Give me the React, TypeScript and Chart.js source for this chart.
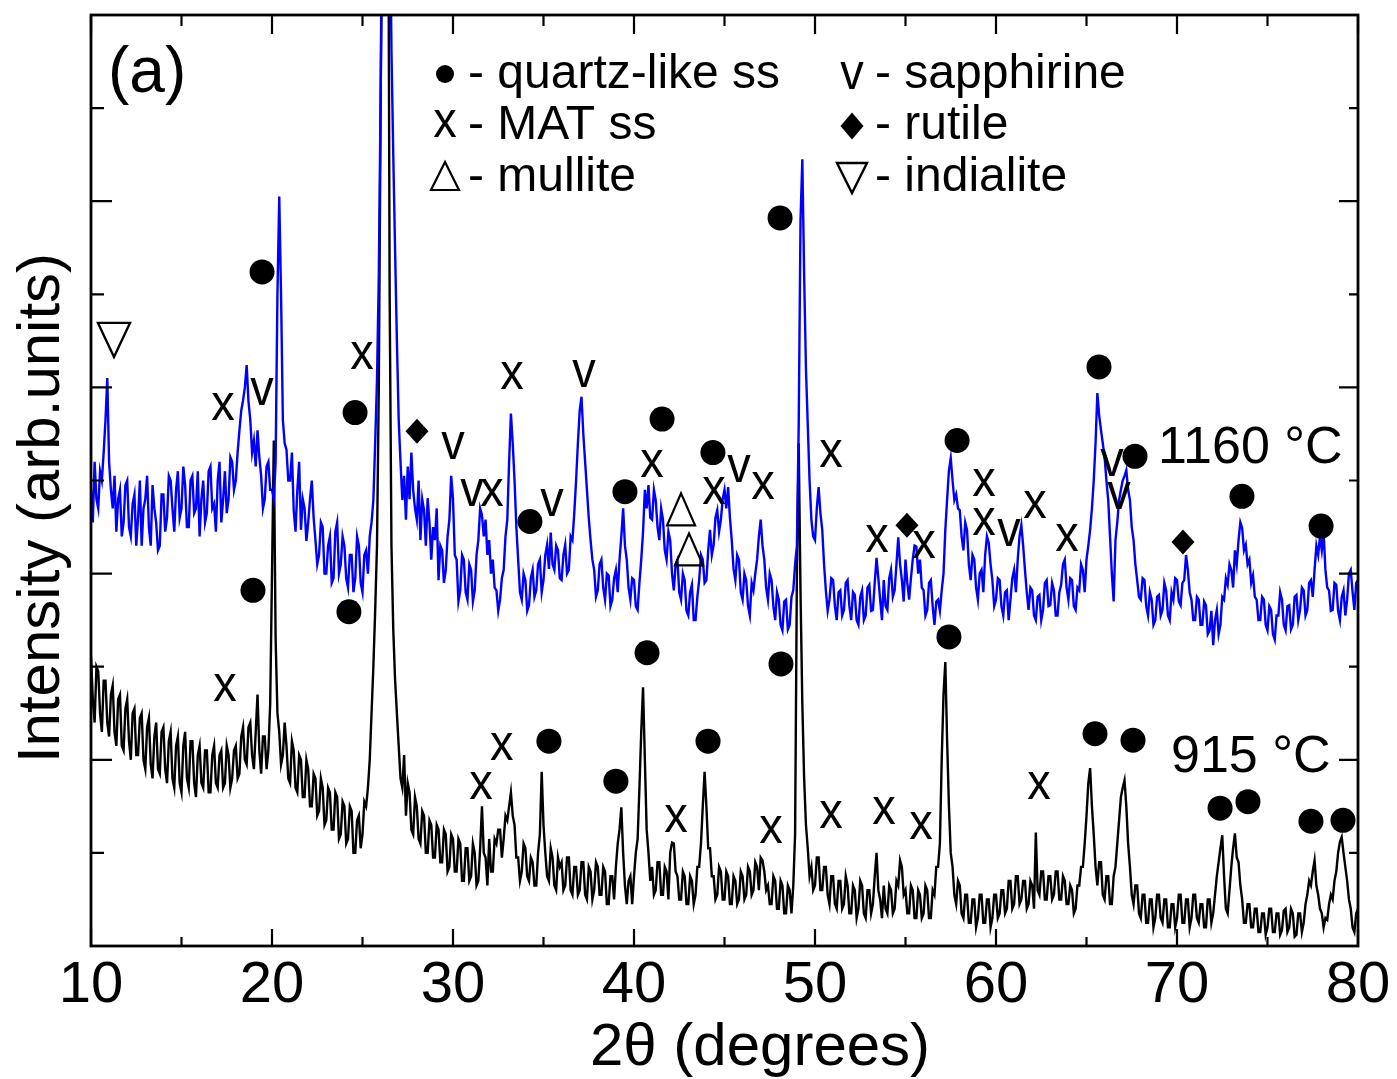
import React, { useEffect, useRef } from 'react';
import { Chart, registerables } from 'chart.js';

Chart.register(...registerables);

// 2θ scan grid (degrees)
const SCAN_START = 10;
const SCAN_STEP = 0.1;

// Intensity (arb. units), sample fired at 1160 °C — one row per degree (x.0 … x.9)
const intensity1160: number[] = [
  490, 455, 520, 480, 470, 510, 500, 530, 565, 610,
  520, 490, 470, 505, 445, 480, 490, 440, 455, 495,
  500, 450, 440, 475, 485, 430, 460, 500, 430, 470,
  480, 505, 450, 430, 495, 470, 455, 425, 430, 485,
  485, 445, 460, 505, 500, 470, 445, 490, 510, 460,
  470, 515, 495, 450, 450, 500, 505, 465, 470, 510,
  440, 480, 500, 455, 465, 510, 515, 470, 475, 445,
  500, 520, 455, 480, 510, 465, 480, 525, 520, 490,
  500, 530, 554, 575, 586, 600, 624, 585, 565, 530,
  543, 515, 554, 525, 505, 470, 480, 515, 520, 490,
  490, 480, 520, 700, 805, 700, 565, 540, 533, 500,
  500, 530, 468, 445, 490, 520, 447, 480, 470, 435,
  455, 480, 500, 460, 436, 410, 420, 455, 450, 400,
  400, 430, 440, 390, 395, 445, 455, 400, 410, 440,
  430, 395, 385, 420, 420, 380, 395, 440, 430, 390,
  380, 420, 425, 400, 440, 455, 479, 540, 608, 720,
  909, 1100, 1300, 1300, 1250, 1150, 962, 850, 748, 650,
  565, 520, 479, 505, 458, 515, 480, 530, 490, 470,
  458, 500, 436, 480, 468, 430, 481, 455, 415, 450,
  436, 470, 393, 430, 425, 390, 404, 440, 458, 505,
  480, 420, 415, 370, 382, 420, 415, 380, 372, 410,
  404, 370, 382, 420, 436, 470, 463, 440, 458, 420,
  436, 400, 415, 385, 382, 360, 372, 395, 404, 440,
  458, 520, 572, 540, 500, 450, 415, 380, 372, 400,
  393, 360, 366, 395, 404, 375, 382, 410, 415, 380,
  393, 420, 431, 405, 444, 410, 404, 430, 425, 395,
  393, 420, 431, 400, 404, 440, 436, 465, 500, 540,
  575, 590, 550, 520, 490, 460, 436, 415, 404, 375,
  382, 410, 415, 385, 372, 400, 398, 365, 372, 395,
  404, 380, 415, 440, 470, 430, 415, 385, 372, 395,
  393, 365, 361, 390, 415, 445, 490, 470, 495, 460,
  458, 490, 479, 450, 436, 470, 458, 425, 415, 445,
  436, 400, 382, 410, 415, 380, 372, 400, 393, 360,
  355, 380, 388, 350, 350, 375, 393, 420, 415, 390,
  393, 425, 447, 420, 431, 460, 468, 445, 458, 480,
  490, 470, 493, 460, 436, 405, 393, 420, 415, 380,
  372, 400, 393, 365, 355, 390, 382, 400, 415, 440,
  458, 430, 415, 385, 372, 400, 393, 365, 350, 380,
  372, 345, 339, 370, 372, 340, 345, 375, 382, 410,
  430, 560, 780, 845, 720, 620, 560, 500, 458, 440,
  436, 470, 493, 465, 447, 410, 382, 360, 372, 395,
  393, 365, 350, 380, 382, 355, 361, 390, 393, 365,
  350, 380, 377, 350, 345, 375, 382, 350, 355, 385,
  388, 360, 361, 390, 417, 395, 372, 350, 393, 365,
  361, 395, 404, 375, 382, 410, 439, 410, 393, 370,
  415, 390, 372, 395, 415, 430, 429, 400, 415, 385,
  382, 355, 361, 390, 393, 365, 345, 370, 372, 360,
  382, 400, 447, 480, 511, 524, 500, 479, 485, 470,
  468, 440, 425, 455, 447, 410, 393, 420, 415, 385,
  372, 400, 404, 380, 420, 440, 433, 410, 393, 365,
  372, 395, 393, 365, 355, 380, 382, 350, 372, 395,
  404, 380, 415, 440, 452, 430, 404, 380, 361, 385,
  382, 355, 350, 375, 377, 350, 361, 390, 393, 365,
  366, 390, 382, 355, 355, 380, 388, 410, 415, 385,
  372, 395, 393, 365, 361, 385, 382, 410, 404, 380,
  415, 430, 447, 470, 500, 540, 594, 570, 554, 540,
  525, 500, 479, 440, 400, 370, 436, 455, 479, 490,
  500, 505, 511, 490, 479, 450, 436, 410, 393, 375,
  372, 395, 393, 365, 355, 380, 372, 345, 350, 375,
  377, 355, 361, 390, 382, 355, 350, 380, 372, 395,
  393, 370, 366, 390, 393, 420, 404, 380, 372, 350,
  350, 375, 372, 345, 345, 370, 366, 335, 339, 360,
  323, 350, 361, 335, 345, 375, 372, 395, 388, 410,
  404, 385, 425, 410, 436, 455, 449, 425, 431, 410,
  415, 390, 398, 375, 372, 350, 350, 375, 372, 345,
  339, 365, 361, 335, 329, 355, 355, 380, 372, 345,
  339, 365, 366, 340, 345, 375, 377, 350, 361, 385,
  382, 355, 361, 390, 393, 375, 404, 430, 420, 440,
  425, 445, 404, 385, 382, 360, 361, 390, 388, 360,
  350, 375, 382, 355, 372, 400, 404, 380, 361, 390,
  393,
];

// Intensity (arb. units), sample fired at 915 °C
const intensity915: number[] = [
  310, 265, 240, 300, 295, 250, 230, 285, 285, 240,
  225, 270, 280, 230, 215, 265, 270, 215, 210, 255,
  265, 220, 200, 250, 255, 205, 205, 245, 250, 200,
  190, 235, 245, 195, 180, 225, 240, 190, 185, 230,
  235, 190, 175, 220, 230, 180, 170, 215, 225, 175,
  165, 215, 230, 180, 170, 220, 220, 175, 160, 205,
  215, 175, 170, 210, 210, 165, 165, 205, 215, 175,
  170, 205, 210, 170, 175, 215, 205, 170, 180, 210,
  215, 180, 185, 225, 235, 200, 195, 235, 240, 205,
  190, 230, 270, 210, 185, 225, 225, 190, 210, 260,
  400, 543, 330, 250, 230, 195, 205, 240, 215, 180,
  175, 220, 210, 170, 165, 205, 200, 160, 160, 200,
  190, 150, 150, 185, 180, 140, 145, 180, 170, 130,
  135, 170, 165, 125, 125, 165, 160, 115, 120, 155,
  150, 110, 115, 150, 145, 100, 100, 135, 140, 105,
  120, 155, 150, 170, 200, 250, 300, 360, 430, 600,
  900, 1200, 1400, 1400, 1300, 700, 430, 340, 286, 250,
  215, 180, 170, 205, 140, 175, 165, 125, 120, 160,
  150, 115, 110, 145, 140, 100, 100, 135, 130, 95,
  95, 130, 125, 90, 90, 125, 120, 80, 85, 120,
  115, 80, 80, 115, 110, 70, 70, 105, 105, 70,
  75, 110, 100, 65, 70, 105, 150, 100, 95, 65,
  115, 80, 80, 115, 110, 125, 125, 95, 115, 140,
  135, 150, 165, 140, 130, 95, 95, 70, 80, 110,
  105, 75, 70, 95, 90, 65, 65, 100, 120, 187,
  130, 100, 75, 70, 105, 95, 65, 60, 95, 85,
  90, 60, 65, 95, 95, 60, 55, 85, 85, 55,
  60, 90, 90, 55, 50, 85, 80, 50, 60, 90,
  85, 55, 55, 85, 80, 45, 45, 75, 75, 50,
  85, 110, 125, 149, 100, 65, 45, 70, 75, 45,
  75, 100, 115, 170, 230, 278, 200, 125, 100, 70,
  85, 55, 60, 90, 90, 55, 55, 85, 80, 50,
  100, 111, 110, 80, 75, 50, 50, 80, 75, 45,
  45, 75, 70, 45, 55, 85, 85, 110, 150, 187,
  150, 105, 105, 75, 75, 50, 55, 85, 80, 50,
  50, 80, 75, 45, 45, 75, 70, 45, 50, 80,
  75, 50, 55, 85, 80, 55, 60, 90, 85, 60,
  95, 92, 80, 60, 65, 45, 45, 75, 70, 40,
  40, 70, 65, 35, 35, 65, 60, 35, 65, 120,
  400, 540, 380, 260, 180, 130, 105, 75, 85, 60,
  65, 95, 95, 60, 60, 85, 85, 55, 45, 75,
  75, 45, 40, 70, 70, 40, 45, 75, 65, 35,
  35, 65, 60, 30, 40, 70, 65, 35, 30, 60,
  60, 35, 45, 75, 100, 60, 50, 30, 65, 40,
  35, 65, 60, 35, 40, 70, 65, 92, 85, 55,
  60, 35, 35, 65, 60, 30, 30, 60, 55, 30,
  35, 65, 60, 30, 30, 60, 55, 85, 85, 110,
  200, 270, 305, 220, 150, 100, 85, 55, 45, 70,
  65, 35, 30, 55, 55, 25, 25, 50, 50, 20,
  30, 55, 55, 25, 25, 50, 50, 20, 30, 55,
  55, 30, 35, 60, 60, 35, 40, 70, 70, 40,
  45, 75, 75, 45, 50, 70, 70, 40, 45, 70,
  65, 40, 122, 60, 55, 80, 80, 50, 50, 75,
  75, 50, 55, 80, 80, 50, 50, 75, 70, 45,
  45, 65, 60, 35, 40, 65, 65, 85, 85, 110,
  140, 175, 191, 150, 120, 85, 65, 90, 90, 55,
  50, 75, 75, 45, 45, 75, 85, 110, 135, 160,
  170, 178, 150, 110, 85, 55, 45, 65, 65, 35,
  30, 55, 55, 25, 25, 50, 50, 20, 30, 55,
  55, 30, 25, 50, 50, 20, 20, 45, 45, 20,
  30, 55, 55, 25, 25, 50, 50, 20, 30, 55,
  55, 30, 25, 45, 45, 20, 20, 50, 50, 25,
  35, 55, 75, 90, 105, 119, 75, 40, 35, 60,
  85, 105, 121, 95, 90, 65, 50, 25, 25, 45,
  45, 20, 20, 40, 40, 15, 15, 35, 35, 12,
  20, 40, 40, 15, 15, 35, 35, 12, 17, 38,
  40, 15, 20, 40, 35, 10, 12, 35, 35, 15,
  25, 45, 55, 70, 65, 80, 92, 65, 55, 40,
  35, 20, 30, 28, 45, 55, 50, 70, 80, 100,
  112, 117, 100, 85, 70, 50, 40, 20, 15, 35,
  40,
];

const xMajorTicks = [10, 20, 30, 40, 50, 60, 70, 80];
const xMinorTicks = [15, 25, 35, 45, 55, 65, 75];
const yMajorTicks = [200, 400, 600, 800];
const yMinorTicks = [100, 300, 500, 700, 900];

// Phase markers: [symbol, 2θ, intensity]
type Mark = [string, number, number];
const marks1160: Mark[] = [
  ['itri', 11.27, 651],
  ['dot', 19.45, 724],
  ['x', 17.29, 579],
  ['v', 19.45, 595],
  ['x', 24.97, 634],
  ['dot', 24.59, 573],
  ['dia', 28.01, 553],
  ['v', 30.0, 537],
  ['v', 31.05, 487],
  ['x', 32.15, 487],
  ['dot', 34.25, 456],
  ['x', 33.26, 613],
  ['v', 35.47, 476],
  ['v', 37.24, 615],
  ['dot', 39.5, 488],
  ['dot', 41.55, 566],
  ['x', 41.0, 518],
  ['tri', 42.6, 469],
  ['tri', 43.04, 426],
  ['dot', 44.36, 530],
  ['x', 44.42, 489],
  ['v', 45.8, 513],
  ['x', 47.13, 495],
  ['dot', 48.07, 782],
  ['x', 50.88, 529],
  ['x', 53.43, 438],
  ['dia', 55.08, 452],
  ['x', 56.02, 431],
  ['dot', 57.85, 543],
  ['x', 59.34, 498],
  ['x', 59.34, 456],
  ['v', 60.72, 444],
  ['x', 62.15, 474],
  ['x', 63.92, 439],
  ['dot', 65.69, 622],
  ['v', 66.41, 519],
  ['v', 66.8, 484],
  ['dot', 67.68, 526],
  ['dia', 70.33, 434],
  ['dot', 73.59, 483],
  ['dot', 77.96, 451],
];
const marks915: Mark[] = [
  ['dot', 18.95, 382],
  ['dot', 24.25, 359],
  ['x', 17.4, 278],
  ['x', 31.55, 172],
  ['x', 32.7, 214],
  ['dot', 35.3, 220],
  ['dot', 39.0, 177],
  ['dot', 40.72, 315],
  ['x', 42.32, 137],
  ['dot', 44.09, 220],
  ['x', 47.57, 125],
  ['dot', 48.12, 303],
  ['x', 50.88, 141],
  ['x', 53.81, 146],
  ['x', 55.86, 129],
  ['dot', 57.4, 332],
  ['x', 62.38, 172],
  ['dot', 65.47, 228],
  ['dot', 67.57, 221],
  ['dot', 72.38, 148],
  ['dot', 73.92, 155],
  ['dot', 77.4, 134],
  ['dot', 79.17, 135],
];

const legendLeft: [string, string][] = [
  ['dot', '- quartz-like ss'],
  ['x', '- MAT ss'],
  ['tri', '- mullite'],
];
const legendRight: [string, string][] = [
  ['v', '- sapphirine'],
  ['dia', '- rutile'],
  ['itri', '- indialite'],
];

const FONT = '"Liberation Sans", Arial, Helvetica, sans-serif';

function drawSymbol(ctx: CanvasRenderingContext2D, sym: string, px: number, py: number, small = false) {
  ctx.save();
  ctx.fillStyle = '#000';
  ctx.strokeStyle = '#000';
  ctx.lineJoin = 'miter';
  switch (sym) {
    case 'dot': {
      ctx.beginPath();
      ctx.arc(px, py, small ? 9 : 12.5, 0, Math.PI * 2);
      ctx.fill();
      break;
    }
    case 'x':
    case 'v': {
      ctx.translate(px, py);
      ctx.scale(1, 1.12);
      ctx.font = `47px ${FONT}`;
      ctx.textAlign = 'center';
      ctx.textBaseline = 'alphabetic';
      ctx.fillText(sym, 0, 12);
      break;
    }
    case 'tri': {
      const w = 14, h = small ? 14 : 16;
      ctx.lineWidth = 2.2;
      ctx.beginPath();
      ctx.moveTo(px, py - h);
      ctx.lineTo(px + w, py + h);
      ctx.lineTo(px - w, py + h);
      ctx.closePath();
      ctx.stroke();
      break;
    }
    case 'itri': {
      const w = small ? 15 : 16, h = small ? 15 : 17;
      ctx.lineWidth = 2.4;
      ctx.beginPath();
      ctx.moveTo(px - w, py - h);
      ctx.lineTo(px + w, py - h);
      ctx.lineTo(px, py + h);
      ctx.closePath();
      ctx.stroke();
      break;
    }
    case 'dia': {
      const w = 11.5, h = small ? 13.5 : 12.5;
      ctx.beginPath();
      ctx.moveTo(px, py - h);
      ctx.lineTo(px + w, py);
      ctx.lineTo(px, py + h);
      ctx.lineTo(px - w, py);
      ctx.closePath();
      ctx.fill();
      break;
    }
  }
  ctx.restore();
}

const decorPlugin = {
  id: 'xrdDecor',
  afterDraw(chart: any) {
    const ctx: CanvasRenderingContext2D = chart.ctx;
    const { left, right, top, bottom } = chart.chartArea;
    const xs = chart.scales.x;
    const ys = chart.scales.y;
    ctx.save();

    // phase markers
    for (const [s, x, y] of [...marks1160, ...marks915]) {
      drawSymbol(ctx, s, xs.getPixelForValue(x), ys.getPixelForValue(y));
    }

    // frame
    ctx.strokeStyle = '#000';
    ctx.lineWidth = 2.8;
    ctx.strokeRect(left, top, right - left, bottom - top);

    // ticks
    ctx.lineWidth = 2.2;
    ctx.beginPath();
    for (const t of xMajorTicks) {
      const p = xs.getPixelForValue(t);
      ctx.moveTo(p, bottom); ctx.lineTo(p, bottom - 17);
      ctx.moveTo(p, top); ctx.lineTo(p, top + 19);
    }
    for (const t of xMinorTicks) {
      const p = xs.getPixelForValue(t);
      ctx.moveTo(p, bottom); ctx.lineTo(p, bottom - 9);
      ctx.moveTo(p, top); ctx.lineTo(p, top + 11);
    }
    for (const t of yMajorTicks) {
      const p = ys.getPixelForValue(t);
      ctx.moveTo(left, p); ctx.lineTo(left + 21, p);
      ctx.moveTo(right, p); ctx.lineTo(right - 19, p);
    }
    for (const t of yMinorTicks) {
      const p = ys.getPixelForValue(t);
      ctx.moveTo(left, p); ctx.lineTo(left + 13, p);
      ctx.moveTo(right, p); ctx.lineTo(right - 9, p);
    }
    ctx.stroke();

    // tick labels
    ctx.fillStyle = '#000';
    ctx.font = `58px ${FONT}`;
    ctx.textAlign = 'center';
    ctx.textBaseline = 'alphabetic';
    for (const t of xMajorTicks) {
      ctx.fillText(String(t), xs.getPixelForValue(t), 1002);
    }

    // axis titles
    ctx.font = `60px ${FONT}`;
    ctx.fillText('2\u03B8 (degrees)', 760, 1065);
    ctx.save();
    ctx.translate(59, 508);
    ctx.rotate(-Math.PI / 2);
    ctx.fillText('Intensity (arb.units)', 0, 0);
    ctx.restore();

    // panel label
    ctx.textAlign = 'left';
    ctx.font = `64px ${FONT}`;
    ctx.fillText('(a)', 108, 92);

    // series labels
    ctx.font = `52px ${FONT}`;
    ctx.fillText('1160 \u00B0C', 1158, 463);
    ctx.fillText('915 \u00B0C', 1171, 772);

    // legend
    const baselines = [88, 139, 191];
    const symY = [74, 124, 176];
    legendLeft.forEach(([s, label], i) => {
      drawSymbol(ctx, s, 445, symY[i], true);
      ctx.fillStyle = '#000';
      ctx.font = `48px ${FONT}`;
      ctx.textAlign = 'left';
      ctx.fillText(label, 468, baselines[i]);
    });
    legendRight.forEach(([s, label], i) => {
      drawSymbol(ctx, s, 852, symY[i] + 2, true);
      ctx.fillStyle = '#000';
      ctx.font = `48px ${FONT}`;
      ctx.textAlign = 'left';
      ctx.fillText(label, 875, baselines[i]);
    });

    ctx.restore();
  },
};

export default function App() {
  const canvasRef = useRef<HTMLCanvasElement | null>(null);

  useEffect(() => {
    const canvas = canvasRef.current;
    if (!canvas) return;
    const toPoints = (arr: number[]) =>
      arr.map((v, i) => ({ x: SCAN_START + i * SCAN_STEP, y: v }));

    const chart = new Chart(canvas, {
      type: 'line',
      data: {
        datasets: [
          {
            label: '1160 °C',
            data: toPoints(intensity1160),
            borderColor: '#0000ff',
            borderWidth: 2.4,
            pointRadius: 0,
            tension: 0,
            fill: false,
          },
          {
            label: '915 °C',
            data: toPoints(intensity915),
            borderColor: '#000000',
            borderWidth: 2.4,
            pointRadius: 0,
            tension: 0,
            fill: false,
          },
        ],
      },
      options: {
        responsive: false,
        devicePixelRatio: 1,
        animation: false,
        events: [],
        layout: { padding: { left: 91, top: 15, right: 39, bottom: 133 } },
        plugins: {
          legend: { display: false },
          tooltip: { enabled: false },
          title: { display: false },
        },
        scales: {
          x: { type: 'linear', min: 10, max: 80, display: false },
          y: { type: 'linear', min: 0, max: 1000, display: false },
        },
      },
      plugins: [decorPlugin],
    });
    return () => chart.destroy();
  }, []);

  return (
    <div style={{ position: 'absolute', left: 0, top: 0, width: 1397, height: 1079, background: '#fff' }}>
      <canvas ref={canvasRef} width={1397} height={1079} style={{ display: 'block', width: 1397, height: 1079 }} />
    </div>
  );
}
